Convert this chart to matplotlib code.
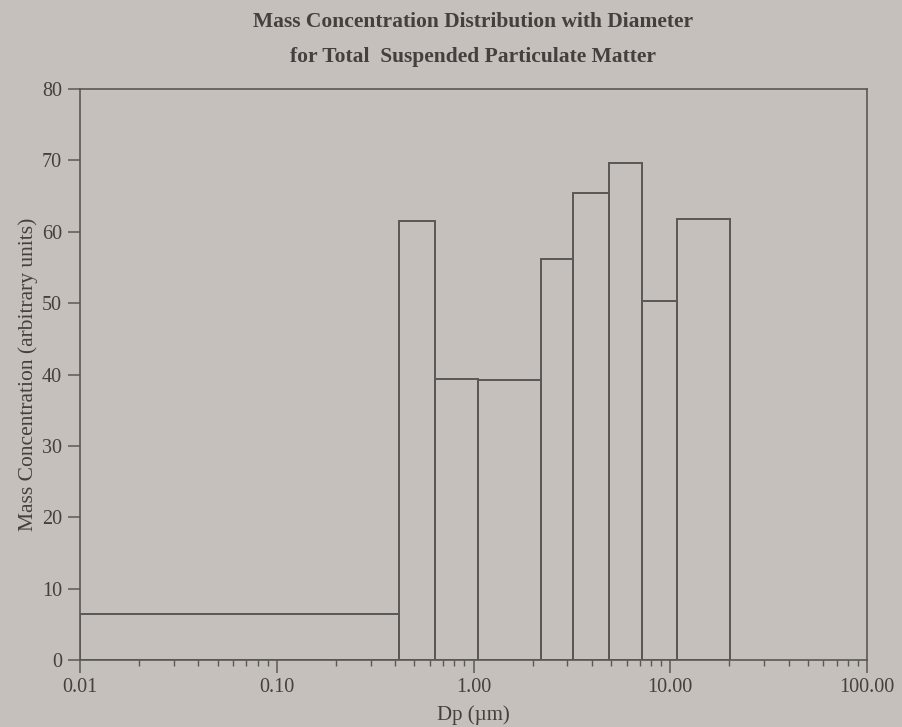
import matplotlib
matplotlib.use("Agg")
import matplotlib.pyplot as plt
from matplotlib.ticker import FixedLocator, LogLocator, NullFormatter

# bin edges (um) and mass concentration per bin
edges = [0.01, 0.42, 0.64, 1.06, 2.2, 3.2, 4.9, 7.2, 10.8, 20.2]
heights = [6.4, 61.5, 39.4, 39.2, 56.2, 65.4, 69.6, 50.3, 61.8]
xticks = [0.01, 0.1, 1, 10, 100]
xticklabels = ["0.01", "0.10", "1.00", "10.00", "100.00"]
yticks = [0, 10, 20, 30, 40, 50, 60, 70, 80]

bg = "#c5c0bb"
ink = "#5a5856"
txt = "#45403e"

plt.rcParams["font.family"] = ["Liberation Serif", "DejaVu Serif"]

fig = plt.figure(figsize=(9.02, 7.27), dpi=100, facecolor=bg)
ax = fig.add_axes([80 / 902, 1 - 660 / 727, 787 / 902, 571 / 727], facecolor=bg)

widths = [edges[i + 1] - edges[i] for i in range(len(heights))]
ax.bar(edges[:-1], heights, width=widths, align="edge", fill=False,
       edgecolor=ink, linewidth=1.4)

ax.set_xscale("log")
ax.set_xlim(0.01, 100)
ax.set_ylim(0, 80)
ax.xaxis.set_major_locator(FixedLocator(xticks))
ax.set_xticklabels(xticklabels)
ax.xaxis.set_minor_locator(LogLocator(base=10, subs=range(2, 10)))
ax.xaxis.set_minor_formatter(NullFormatter())
ax.set_yticks(yticks)

for s in ax.spines.values():
    s.set_color(ink)
    s.set_linewidth(1.2)
ax.tick_params(axis="both", which="major", direction="out", length=9,
               color=ink, labelcolor=txt, labelsize=14.5, width=1.1, pad=4)
ax.tick_params(axis="x", which="minor", direction="out", length=4,
               color=ink, width=1.0)

ax.set_xlabel("Dp (\u00b5m)", fontsize=15, color=txt, labelpad=6)
ax.set_ylabel("Mass Concentration (arbitrary units)", fontsize=15.5,
              color=txt, labelpad=3)

cx = 0.5 * (80 + 867) / 902
fig.text(cx, 1 - 22 / 727, "Mass Concentration Distribution with Diameter",
         ha="center", va="center", fontsize=15.5, fontweight="bold", color=txt)
fig.text(cx, 1 - 57 / 727, "for Total  Suspended Particulate Matter",
         ha="center", va="center", fontsize=15.5, fontweight="bold", color=txt)

fig.savefig("out.png", dpi=100, facecolor=bg)
